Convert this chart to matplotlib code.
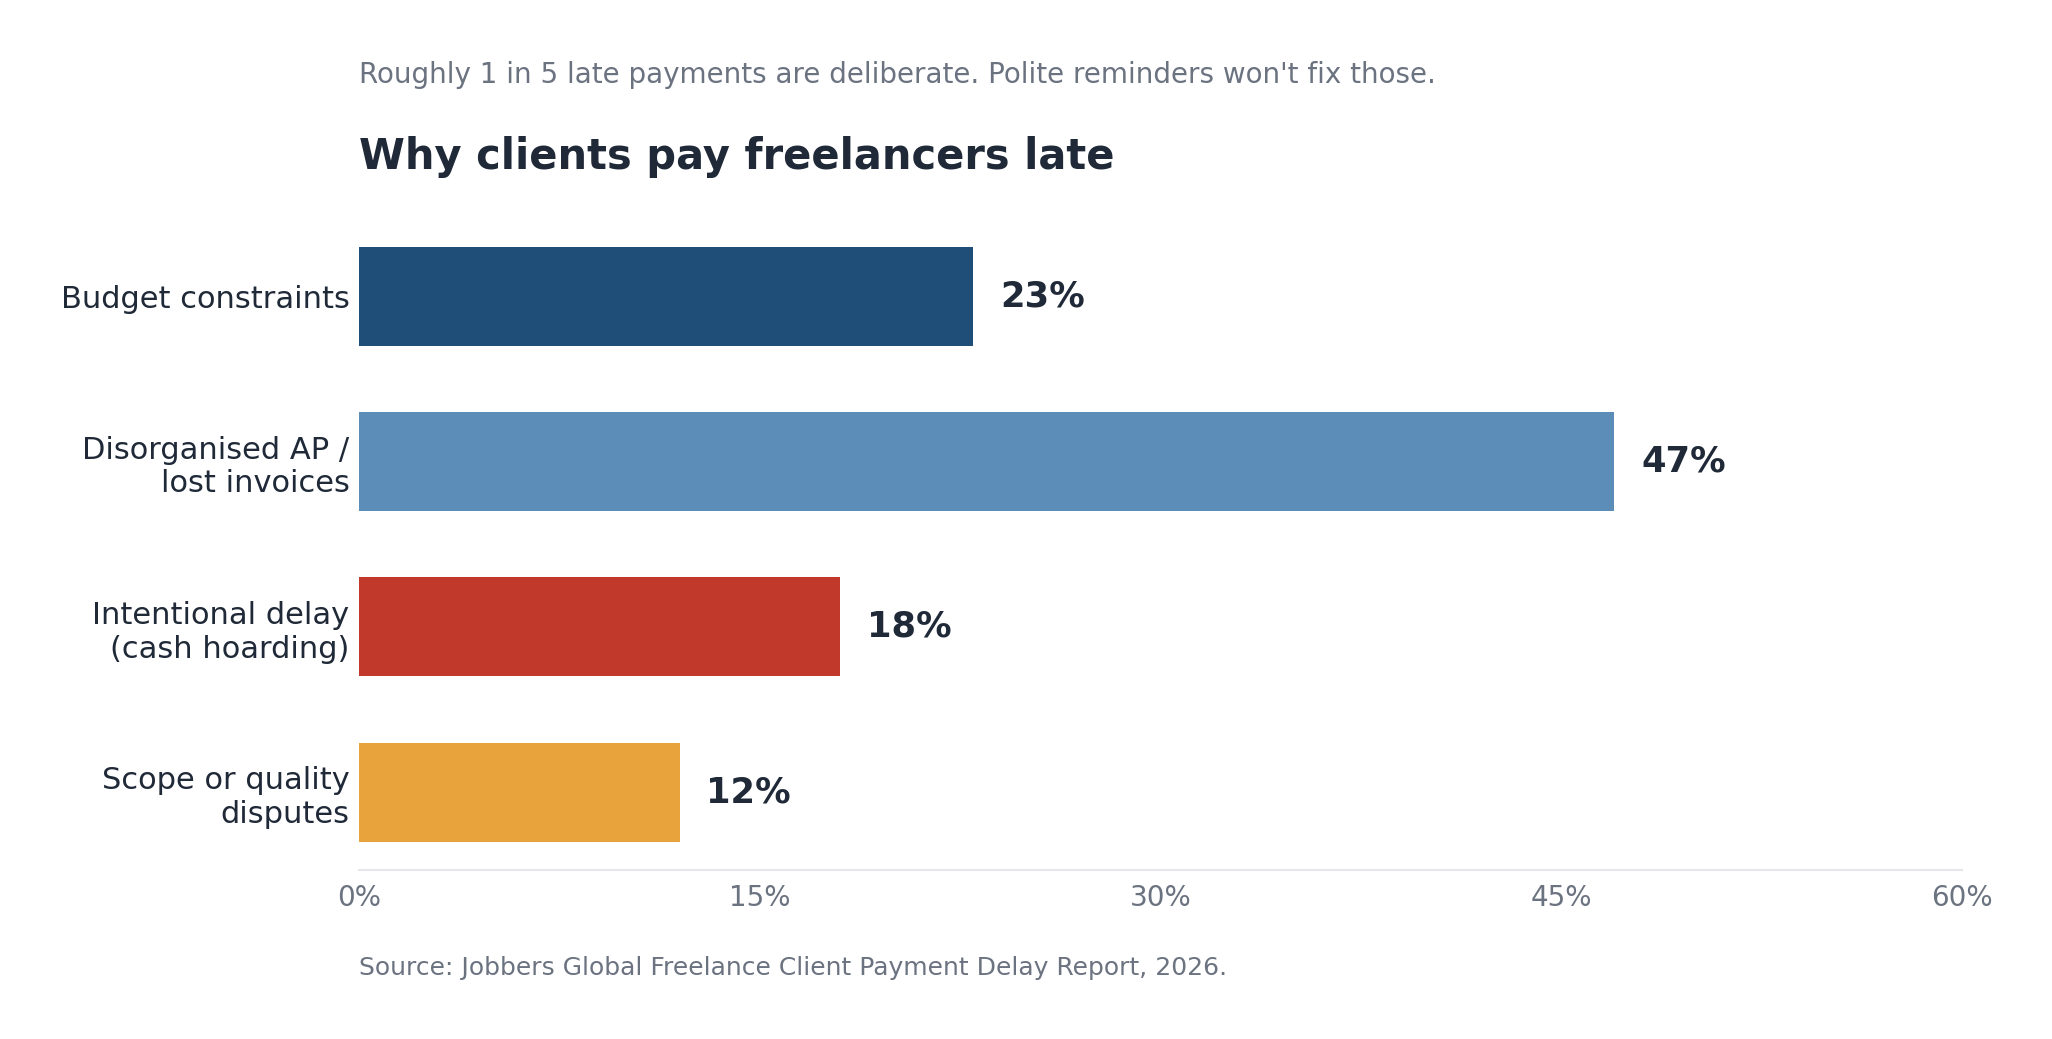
import matplotlib.pyplot as plt
from matplotlib.ticker import FuncFormatter

categories = [
    "Budget constraints",
    "Disorganised AP /\nlost invoices",
    "Intentional delay\n(cash hoarding)",
    "Scope or quality\ndisputes",
]
shares = [23, 47, 18, 12]
bar_colors = ["#1f4e79", "#5b8db8", "#c0392b", "#e8a33d"]
x_ticks = [0, 15, 30, 45, 60]

dark = "#1f2937"
grey = "#6b7280"

fig = plt.figure(figsize=(20.52, 10.39), dpi=100)
ax = fig.add_axes([0.175, 0.163, 0.781, 0.626])

y = list(range(len(categories)))
ax.barh(y, shares, height=0.6, color=bar_colors)
ax.set_ylim(3.47, -0.47)
ax.set_xlim(0, 60)

for yi, v in zip(y, shares):
    ax.text(v + 1.0, yi, f"{v}%", va="center", ha="left",
            fontsize=25.5, fontweight="bold", color=dark)

ax.set_yticks(y)
ax.set_yticklabels(categories, fontsize=22, color=dark)
ax.set_xticks(x_ticks)
ax.xaxis.set_major_formatter(FuncFormatter(lambda v, p: f"{v:.0f}%"))
ax.tick_params(axis="x", labelsize=20, labelcolor=grey, length=0, pad=10)
ax.tick_params(axis="y", length=0, pad=7)

for s in ["top", "right", "left"]:
    ax.spines[s].set_visible(False)
ax.spines["bottom"].set_color("#e5e7eb")
ax.spines["bottom"].set_linewidth(1.5)

fig.text(0.175, 0.928, "Roughly 1 in 5 late payments are deliberate. Polite reminders won't fix those.",
         fontsize=20, color=grey, ha="left", va="center")
fig.text(0.175, 0.849, "Why clients pay freelancers late",
         fontsize=30, fontweight="bold", color=dark, ha="left", va="center")
fig.text(0.175, 0.068, "Source: Jobbers Global Freelance Client Payment Delay Report, 2026.",
         fontsize=18, color=grey, ha="left", va="center")

fig.savefig("out.png", dpi=100)
